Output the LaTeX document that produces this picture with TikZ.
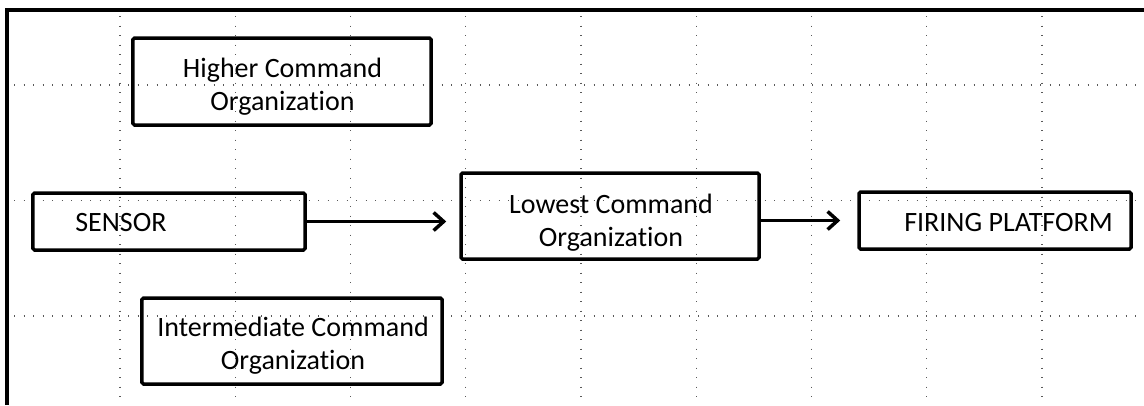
\documentclass[tikz,border=0pt]{standalone}
\usepackage{fontspec}
\setmainfont{Carlito}[Ligatures=NoCommon,Contextuals=NoAlternate]
\usetikzlibrary{arrows.meta}
\begin{document}
\begin{tikzpicture}[x=1bp,y=-1bp,
  box/.style={draw=black, line width=3.5bp, rectangle, rounded corners=1.5bp, inner sep=0pt},
  txt/.style={font=\fontsize{28bp}{33bp}\selectfont, align=center, inner sep=0pt},
  gridline/.style={draw=black!65, line width=1.3bp, dash pattern=on 1.3bp off 8.2bp},
  conn/.style={line width=3.5bp, -{Straight Barb[length=10bp,width=18bp]}},
  frameline/.style={line width=3.5bp, line join=miter}]
\useasboundingbox (0,0) rectangle (1144,405);
% dotted grid
\foreach \i in {0,...,8} \draw[gridline] (120+\i*115.25,16) -- (120+\i*115.25,405);
\foreach \y in {85,200.5,316} \draw[gridline] (14,\y) -- (1144,\y);
% frame
\draw[frameline] (7,405) -- (7,10) -- (1144,10);
% boxes
\node[box, minimum width=298bp, minimum height=87bp] (higher) at (282,81.5) {};
\node[box, minimum width=272bp, minimum height=57bp] (sensor) at (169,221.5) {};
\node[box, minimum width=298bp, minimum height=86bp] (lowest) at (610,216) {};
\node[box, minimum width=272bp, minimum height=57bp] (firing) at (995,220.5) {};
\node[box, minimum width=300bp, minimum height=86bp] (inter) at (292,341) {};
% texts
\node[txt] (higher-t) at ([yshift=-5bp,xshift=0.5bp]higher.center) {Higher Command\\Organization};
\node[txt] (sensor-t) at ([yshift=-1bp,xshift=-48bp]sensor.center) {SENSOR};
\node[txt] (lowest-t) at ([yshift=-6.5bp,xshift=1bp]lowest.center) {Lowest Command\\Organization};
\node[txt] (firing-t) at ([yshift=-2bp,xshift=13.5bp]firing.center) {FIRING PLATFORM};
\node[txt] (inter-t) at ([yshift=-5bp,xshift=1bp]inter.center) {Intermediate Command\\Organization};
% connectors
\draw[conn, shorten >=13bp] (sensor.east) -- (sensor.east -| lowest.west);
\draw[conn, shorten >=17bp] (lowest.east |- firing.west) -- (firing.west);
\end{tikzpicture}
\end{document}
